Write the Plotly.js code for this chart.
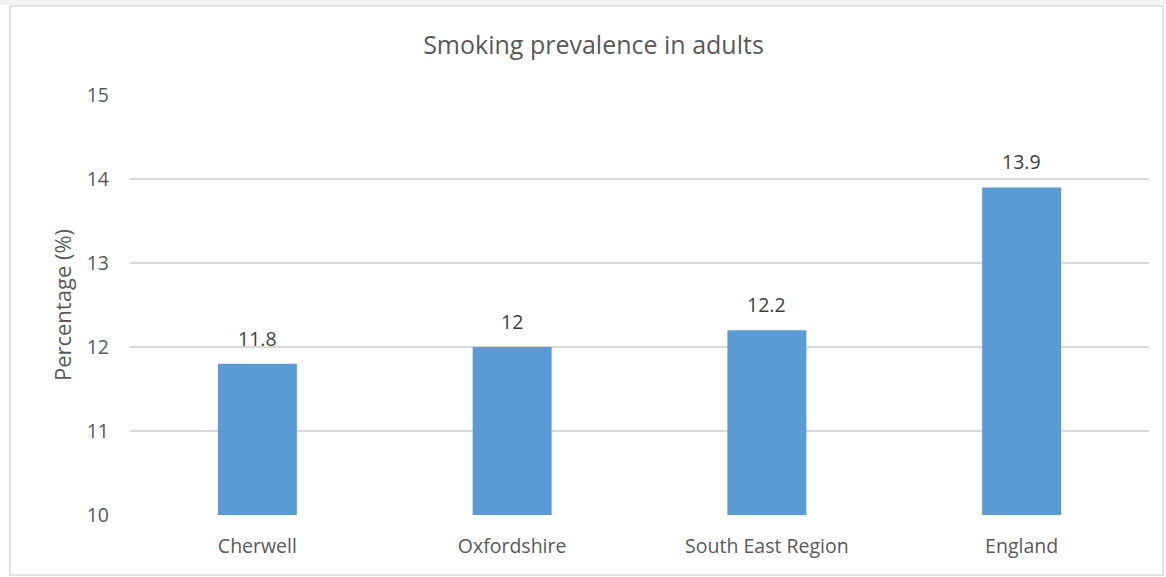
<!DOCTYPE html>
<html>
<head>
<meta charset="utf-8">
<script src="https://cdn.plot.ly/plotly-3.0.1.min.js"></script>
<style>html,body{margin:0;padding:0;background:#fff;}#chart{width:1166px;height:577px;}</style>
</head>
<body>
<div id="chart"></div>
<script>
const categories = ["Cherwell", "Oxfordshire", "South East Region", "England"];
const values = [11.8, 12, 12.2, 13.9];
const valueLabels = ["11.8", "12", "12.2", "13.9"];
const yTicks = [10, 11, 12, 13, 14, 15];

const FONT = "Open Sans, Noto Sans, sans-serif";
const trace = {
  type: "bar",
  x: categories,
  y: values,
  marker: {color: "#5B9BD5"},
  hoverinfo: "x+y"
};

const annotations = categories.map((c, i) => ({
  x: c, y: values[i], xref: "x", yref: "y",
  text: valueLabels[i], showarrow: false,
  yanchor: "bottom", yshift: 10,
  font: {family: FONT, size: 19.5, color: "#404040"}
}));

const layout = {
  width: 1166, height: 577,
  margin: {l: 130, r: 17, t: 95, b: 62},
  paper_bgcolor: "#ffffff",
  plot_bgcolor: "#ffffff",
  bargap: 0.69,
  showlegend: false,
  title: {text: "Smoking prevalence in adults", x: 0.509, xanchor: "center", y: 0.922, yanchor: "middle",
          font: {family: FONT, size: 25, color: "#595959"}},
  xaxis: {
    showgrid: false, zeroline: false, showline: false, ticks: "",
    ticklabelstandoff: 17,
    tickfont: {family: FONT, size: 19.5, color: "#595959"}
  },
  yaxis: {
    range: [10, 15], tickvals: yTicks, ticktext: yTicks.map(String),
    showgrid: true, gridcolor: "#d9d9d9", gridwidth: 1.3, zeroline: false, showline: false,
    ticks: "", ticklabelstandoff: 20,
    tickfont: {family: FONT, size: 19.5, color: "#595959"},
    title: {text: "Percentage (%)", standoff: 8, font: {family: FONT, size: 22, color: "#595959"}}
  },
  annotations: annotations,
  shapes: [
    {type: "rect", xref: "paper", yref: "paper", x0: -0.2, x1: 1.1, y0: (515-5)/420, y1: (515+2)/420,
     fillcolor: "#f2f2f2", line: {width: 0}, layer: "below"},
    {type: "rect", xref: "paper", yref: "paper", x0: (10-130)/1019, x1: (1163-130)/1019,
     y0: (515-575)/420, y1: (515-6)/420, line: {color: "#d9d9d9", width: 1.5}, fillcolor: "rgba(0,0,0,0)"}
  ]
};

Plotly.newPlot("chart", [trace], layout, {displayModeBar: false, staticPlot: true});
</script>
</body>
</html>
